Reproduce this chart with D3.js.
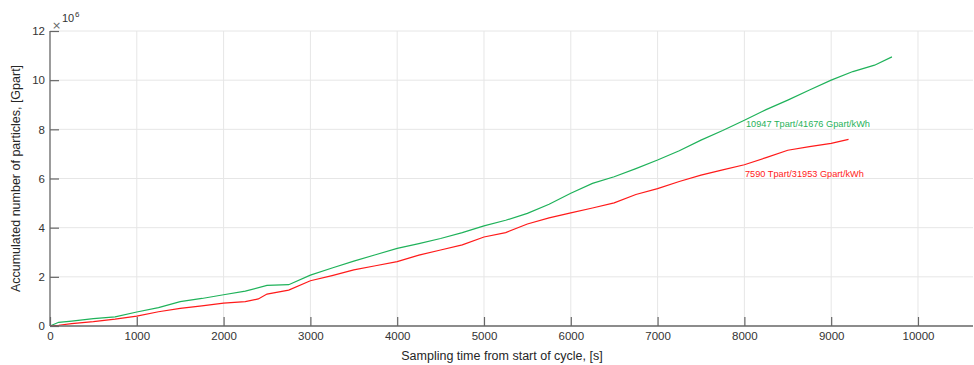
<!DOCTYPE html>
<html><head><meta charset="utf-8">
<script src="https://cdn.jsdelivr.net/npm/d3@7"></script>
<style>body{margin:0;background:#fff}svg{display:block;font-family:"Liberation Sans",Arial,sans-serif}</style>
</head><body><svg id="c" width="974" height="365"></svg>
<script>
const greenT = [0,100,250,500,750,1000,1250,1500,1750,2000,2250,2500,2750,3000,3250,3500,3750,4000,4250,4500,4750,5000,5250,5500,5750,6000,6250,6500,6750,7000,7250,7500,7750,8000,8250,8500,8750,9000,9250,9500,9700];
const greenV = [0,0.15,0.2,0.3,0.37,0.57,0.75,0.99,1.12,1.27,1.42,1.65,1.68,2.07,2.36,2.64,2.9,3.16,3.35,3.56,3.8,4.07,4.3,4.58,4.95,5.4,5.8,6.07,6.4,6.75,7.13,7.56,7.95,8.37,8.8,9.19,9.6,10.0,10.35,10.61,10.947];
const redT = [0,100,250,500,750,1000,1250,1500,1750,2000,2250,2400,2500,2750,3000,3250,3500,3750,4000,4250,4500,4750,5000,5250,5500,5750,6000,6250,6500,6750,7000,7250,7500,7750,8000,8250,8500,8750,9000,9200];
const redV = [0,0.03,0.1,0.18,0.28,0.4,0.58,0.72,0.82,0.93,0.99,1.1,1.3,1.46,1.84,2.05,2.28,2.45,2.62,2.88,3.09,3.3,3.62,3.8,4.15,4.4,4.6,4.8,5.01,5.35,5.59,5.88,6.14,6.35,6.56,6.85,7.15,7.3,7.43,7.59];
const xTicks = [0,1000,2000,3000,4000,5000,6000,7000,8000,9000,10000];
const yTicks = [0,2,4,6,8,10,12];
const greenLabel = "10947 Tpart/41676 Gpart/kWh";
const redLabel = "7590 Tpart/31953 Gpart/kWh";

const svg = d3.select("#c");
const L=50,R=973,T=31,B=326;
const x = d3.scaleLinear().domain([0,10634]).range([L,R]);
const y = d3.scaleLinear().domain([0,12]).range([B,T]);

svg.append("g").selectAll("line").data(xTicks.filter(d=>d>0)).join("line")
  .attr("x1",d=>x(d)).attr("x2",d=>x(d)).attr("y1",T).attr("y2",B)
  .attr("stroke","#e6e6e6").attr("stroke-width",1);
svg.append("g").selectAll("line").data(yTicks.filter(d=>d>0)).join("line")
  .attr("x1",L).attr("x2",R).attr("y1",d=>y(d)).attr("y2",d=>y(d))
  .attr("stroke","#e6e6e6").attr("stroke-width",1);

const line = d3.line().x(d=>x(d[0])).y(d=>y(d[1]));
svg.append("path").datum(greenT.map((t,i)=>[t,greenV[i]])).attr("d",line)
  .attr("fill","none").attr("stroke","#1fb25a").attr("stroke-width",1.2);
svg.append("path").datum(redT.map((t,i)=>[t,redV[i]])).attr("d",line)
  .attr("fill","none").attr("stroke","#ff1a1a").attr("stroke-width",1.2);

const ax = svg.append("g").attr("transform",`translate(0,${B})`)
  .call(d3.axisBottom(x).tickValues(xTicks).tickSize(-9).tickPadding(6).tickFormat(d3.format("d")));
const ay = svg.append("g").attr("transform",`translate(${L},0)`)
  .call(d3.axisLeft(y).tickValues(yTicks).tickSize(-9).tickPadding(5).tickFormat(d3.format("d")));
[ax,ay].forEach(g=>{
  g.select(".domain").attr("stroke","#666").attr("stroke-width",1.3);
  g.selectAll(".tick line").attr("stroke","#666").attr("stroke-width",1.2);
  g.selectAll(".tick text").attr("fill","#333").attr("font-size",11.5);
});
ay.select(".domain").attr("d",`M0,${B}V${T}`);
ax.select(".domain").attr("d",`M${L},0H${R}`);

svg.append("text").attr("x",52).attr("y",29).attr("fill","#666").attr("font-size",11).attr("font-family","DejaVu Sans").text("×");
svg.append("text").attr("x",62).attr("y",22).attr("fill","#333").attr("font-size",11).text("10");
svg.append("text").attr("x",75).attr("y",17).attr("fill","#333").attr("font-size",8).text("6");

svg.append("text").attr("x",502).attr("y",360).attr("text-anchor","middle")
  .attr("fill","#262626").attr("font-size",12.5).text("Sampling time from start of cycle, [s]");
svg.append("text").attr("transform",`translate(20,${(T+B)/2}) rotate(-90)`).attr("text-anchor","middle")
  .attr("fill","#262626").attr("font-size",12.5).text("Accumulated number of particles, [Gpart]");

svg.append("text").attr("x",746).attr("y",127).attr("fill","#1fb25a").attr("font-size",9.2).text(greenLabel);
svg.append("text").attr("x",745).attr("y",177).attr("fill","#ff1a1a").attr("font-size",9.2).text(redLabel);
</script></body></html>
